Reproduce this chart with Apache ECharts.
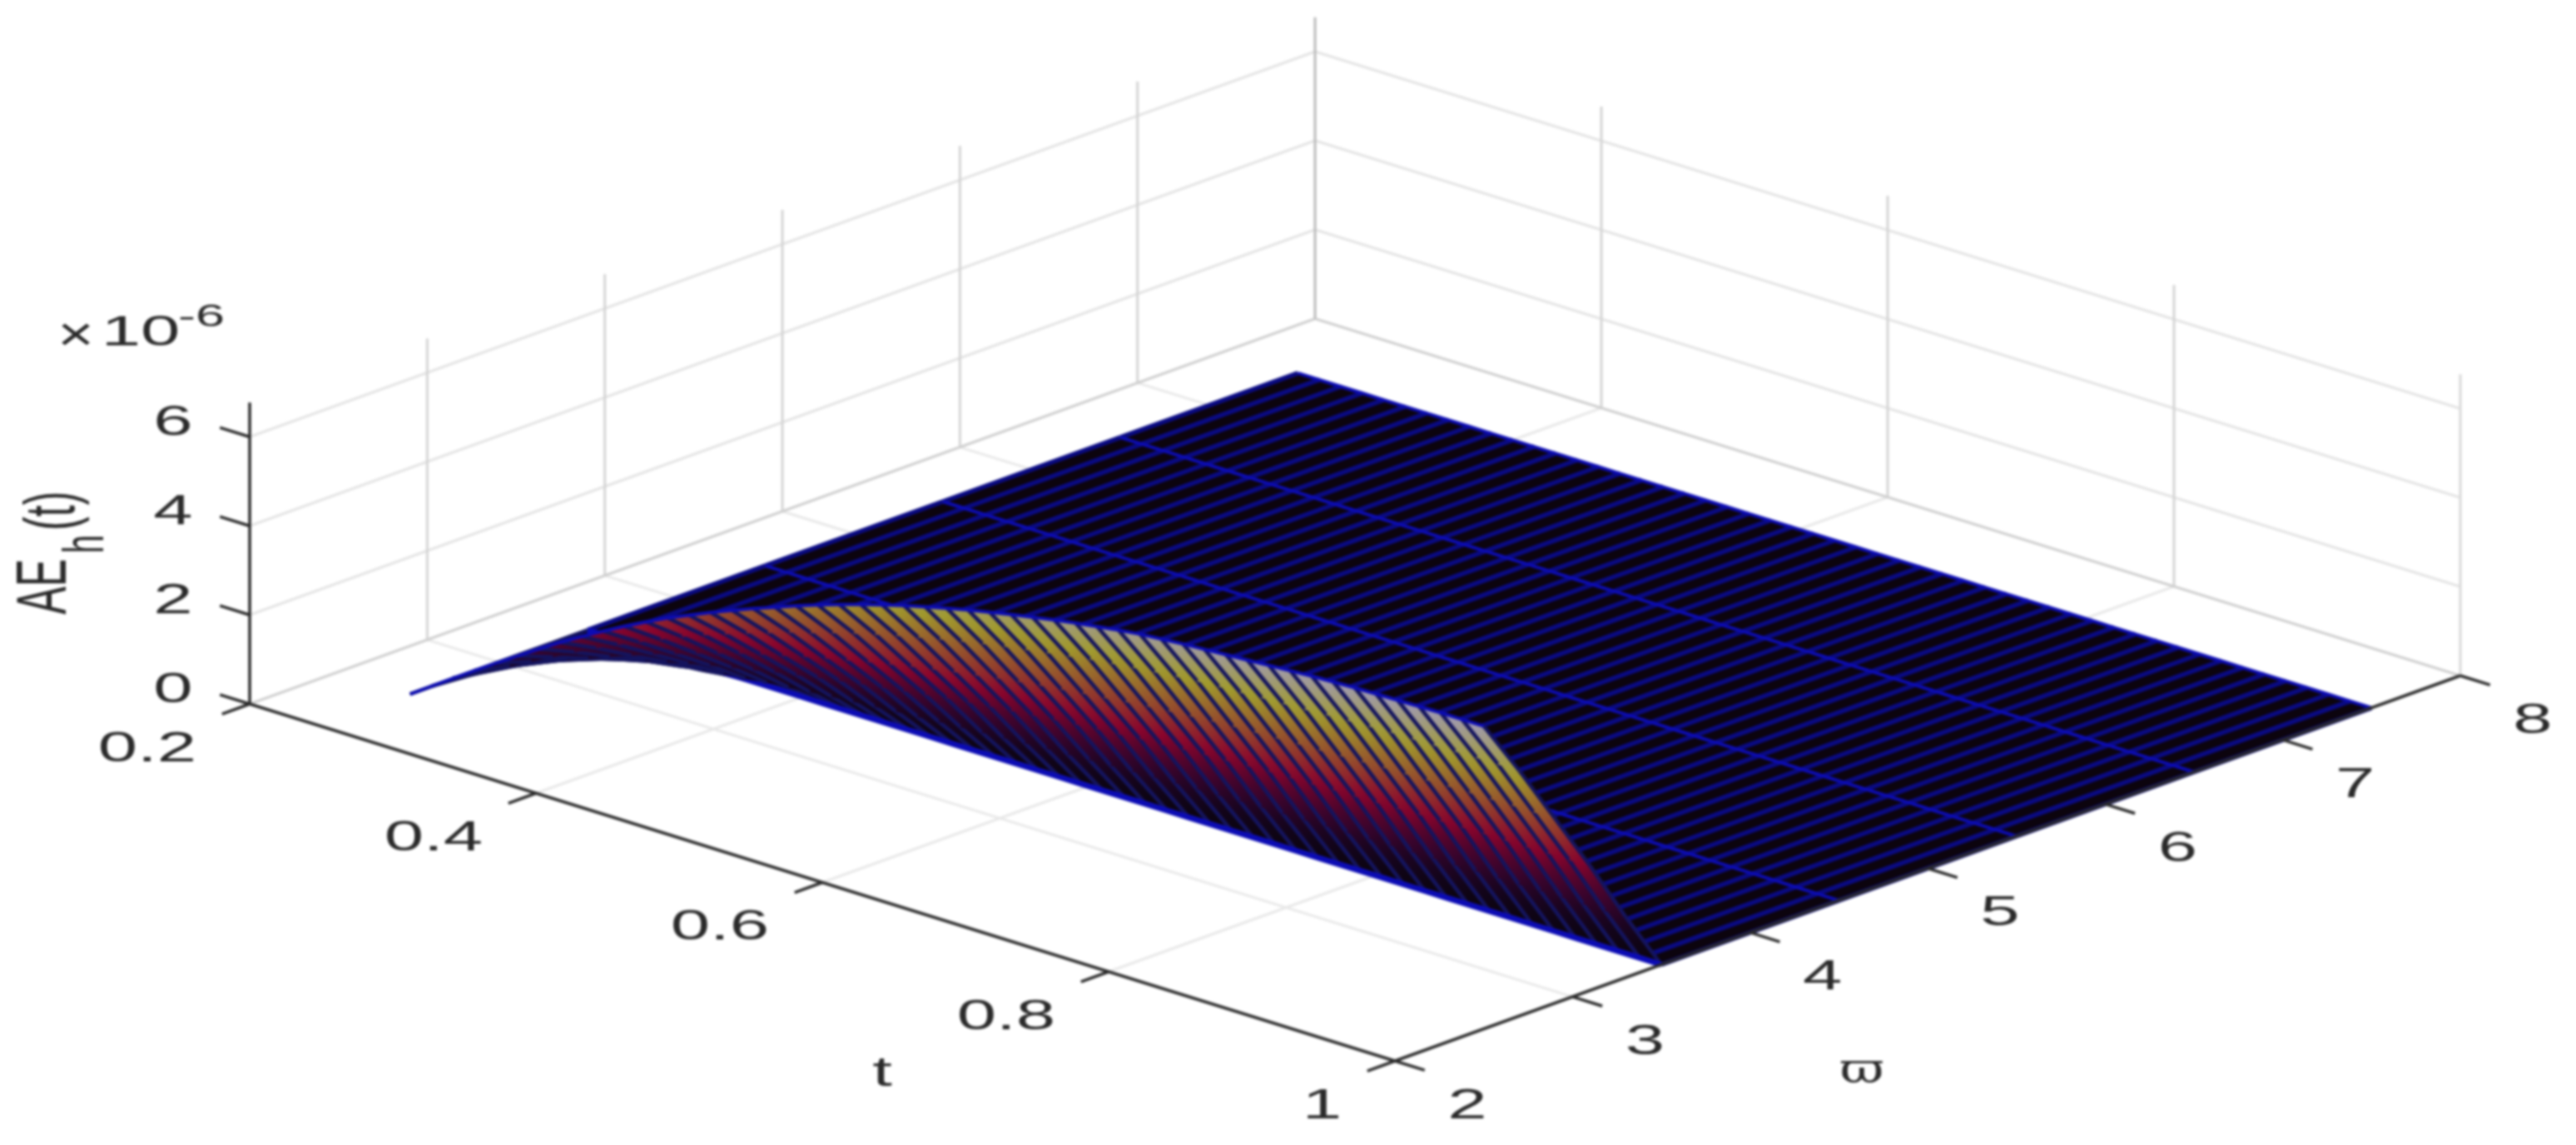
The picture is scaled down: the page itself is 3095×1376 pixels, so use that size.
<!DOCTYPE html>
<html>
<head>
<meta charset="utf-8">
<title>AE_h(t)</title>
<script src="https://cdn.jsdelivr.net/npm/echarts@6/dist/echarts.min.js"></script>
<style>
  html, body { margin: 0; padding: 0; background: #fff; }
  #main { width: 3095px; height: 1376px; filter: blur(1.4px); }
</style>
</head>
<body>
<div id="main"></div>
<script>
// axis ticks
var tTicks = [0.2, 0.4, 0.6, 0.8, 1];
var wTicks = [2, 3, 4, 5, 6, 7, 8];
var zTicks = [0, 2, 4, 6];
var tTickLabels = ["0.2", "0.4", "0.6", "0.8", "1"];
var wTickLabels = ["2", "3", "4", "5", "6", "7", "8"];
var zTickLabels = ["0", "2", "4", "6"];
var zTop = 6.77;

// surface mesh, z in units of 1e-6
var surfW = [2.5, 2.7, 2.9, 3.1, 3.3, 3.5, 4.5, 5.5, 6.5, 7.5];
var strongW = [2.5, 3.5, 4.5, 5.5, 6.5, 7.5];
var surfT = [0.25, 0.265, 0.28, 0.295, 0.31, 0.325, 0.34, 0.355, 0.37, 0.385, 0.4, 0.415, 0.43, 0.445, 0.46, 0.475, 0.49,
  0.505, 0.52, 0.535, 0.55, 0.565, 0.58, 0.595, 0.61, 0.625, 0.64, 0.655, 0.67, 0.685, 0.7, 0.715, 0.73, 0.745, 0.76,
  0.775, 0.79, 0.805, 0.82, 0.835, 0.85, 0.865, 0.88, 0.895, 0.91, 0.925, 0.94, 0.955, 0.97, 0.985, 1];
// one row per surfT, one column per w in 2.5 .. 3.5, beyond that the surface lies flat on 0
var surfZ = [
  [0, 0, 0, 0, 0, 0],
  [0.33, 0.27, 0.2, 0.14, 0.07, 0],
  [0.66, 0.53, 0.4, 0.27, 0.13, 0],
  [0.98, 0.79, 0.6, 0.4, 0.2, 0],
  [1.3, 1.05, 0.79, 0.53, 0.26, 0],
  [1.61, 1.3, 0.98, 0.66, 0.32, 0],
  [1.92, 1.56, 1.17, 0.79, 0.38, 0],
  [2.22, 1.8, 1.35, 0.91, 0.44, 0],
  [2.5, 2.03, 1.53, 1.03, 0.5, 0],
  [2.77, 2.24, 1.69, 1.14, 0.55, 0],
  [3.03, 2.45, 1.85, 1.24, 0.61, 0],
  [3.28, 2.66, 2, 1.34, 0.66, 0],
  [3.52, 2.85, 2.15, 1.44, 0.7, 0],
  [3.73, 3.02, 2.28, 1.53, 0.75, 0],
  [3.94, 3.19, 2.4, 1.62, 0.79, 0],
  [4.14, 3.35, 2.53, 1.7, 0.83, 0],
  [4.33, 3.51, 2.64, 1.78, 0.87, 0],
  [4.51, 3.65, 2.75, 1.85, 0.9, 0],
  [4.69, 3.8, 2.86, 1.92, 0.94, 0],
  [4.86, 3.94, 2.96, 1.99, 0.97, 0],
  [5.02, 4.07, 3.06, 2.06, 1, 0],
  [5.17, 4.19, 3.15, 2.12, 1.03, 0],
  [5.31, 4.3, 3.24, 2.18, 1.06, 0],
  [5.45, 4.41, 3.32, 2.23, 1.09, 0],
  [5.57, 4.51, 3.4, 2.28, 1.11, 0],
  [5.69, 4.61, 3.47, 2.33, 1.14, 0],
  [5.8, 4.7, 3.54, 2.38, 1.16, 0],
  [5.9, 4.78, 3.6, 2.42, 1.18, 0],
  [6, 4.86, 3.66, 2.46, 1.2, 0],
  [6.09, 4.93, 3.71, 2.5, 1.22, 0],
  [6.18, 5.01, 3.77, 2.53, 1.24, 0],
  [6.26, 5.07, 3.82, 2.57, 1.25, 0],
  [6.33, 5.13, 3.86, 2.6, 1.27, 0],
  [6.4, 5.18, 3.9, 2.62, 1.28, 0],
  [6.46, 5.23, 3.94, 2.65, 1.29, 0],
  [6.5, 5.27, 3.97, 2.67, 1.3, 0],
  [6.54, 5.3, 3.99, 2.68, 1.31, 0],
  [6.57, 5.32, 4.01, 2.69, 1.31, 0],
  [6.6, 5.35, 4.03, 2.71, 1.32, 0],
  [6.63, 5.37, 4.04, 2.72, 1.33, 0],
  [6.66, 5.39, 4.06, 2.73, 1.33, 0],
  [6.69, 5.42, 4.08, 2.74, 1.34, 0],
  [6.72, 5.44, 4.1, 2.76, 1.34, 0],
  [6.74, 5.46, 4.11, 2.76, 1.35, 0],
  [6.76, 5.48, 4.12, 2.77, 1.35, 0],
  [6.77, 5.48, 4.13, 2.78, 1.35, 0],
  [6.78, 5.49, 4.14, 2.78, 1.36, 0],
  [6.79, 5.5, 4.14, 2.78, 1.36, 0],
  [6.8, 5.51, 4.15, 2.79, 1.36, 0],
  [6.8, 5.51, 4.15, 2.79, 1.36, 0],
  [6.8, 5.51, 4.15, 2.79, 1.36, 0]
];

var zClimMax = 6.8;
var textColor = "#2a2a2a";
var font = "'Liberation Sans', Arial, sans-serif";
var stretch = 1.7; // the picture is stretched sideways

// the 3d view: oblique projection of (t, w, z) onto the hidden 2d axes
function project(t, w, z) {
  var a = (t - 0.2) / 0.8;
  var b = (w - 2) / 6;
  return [300 + 1376 * a + 1280 * b, 846 + 429 * a - 463 * b - 53.5 * z];
}

function zAt(i, j) {
  return j < surfZ[i].length ? surfZ[i][j] : 0;
}

// hot colormap, muted and pushed to blue by the edges around each cell
function hot(z) {
  var v = Math.max(0, Math.min(1, z / zClimMax));
  var r = Math.min(1, v / 0.42);
  var g = Math.max(0, Math.min(1, (v - 0.42) / 0.36));
  var b = Math.max(0, (v - 0.78) / 0.22);
  var lift = Math.min(1, v * 4);
  return "rgb(" + Math.round(12 + r * r * 126 + g * 22) + "," + Math.round(4 + g * 150) + "," + Math.round(14 + lift * 30 + b * 135) + ")";
}

// back walls and floor
var gridLines = [];
function addGrid(p, q, color) {
  gridLines.push({ p: p, q: q, color: color });
}
zTicks.forEach(function (z) {
  if (z === 0) return;
  addGrid([0.2, 2, z], [0.2, 8, z], "#e4e4e4");
  addGrid([0.2, 8, z], [1, 8, z], "#e4e4e4");
});
tTicks.slice(1, 4).forEach(function (t) {
  addGrid([t, 2, 0], [t, 8, 0], "#e8e8e8");
  addGrid([t, 8, 0], [t, 8, zTop], "#d4d4d4");
});
wTicks.slice(1, 6).forEach(function (w) {
  addGrid([0.2, w, 0], [1, w, 0], "#e8e8e8");
  addGrid([0.2, w, 0], [0.2, w, zTop], "#d4d4d4");
});
addGrid([0.2, 2, 0], [0.2, 8, 0], "#cfcfcf");
addGrid([0.2, 8, 0], [1, 8, 0], "#cfcfcf");
addGrid([0.2, 8, 0], [0.2, 8, zTop], "#bbbbbb");
addGrid([1, 8, 0], [1, 8, zTop], "#d8d8d8");

// far cells first so the hanging front of the surface covers the flat part
var surfItems = [];
for (var j = surfW.length - 2; j >= 0; j--) {
  for (var i = 0; i < surfT.length - 1; i++) {
    surfItems.push({ type: "cell", i: i, j: j });
  }
  if (strongW.indexOf(surfW[j + 1]) >= 0) {
    surfItems.push({ type: "wline", j: j + 1 });
  }
}
surfItems.push({ type: "wline", j: 0 });

// axes and ticks
var axisLines = [
  { p: [0.2, 2, 0], q: [1, 2, 0] },
  { p: [1, 2, 0], q: [1, 8, 0] },
  { p: [0.2, 2, 0], q: [0.2, 2, zTop] }
];
tTicks.forEach(function (t) {
  axisLines.push({ p: [t, 2, 0], q: [t, 2 - 6 * 0.026, 0] });
});
wTicks.forEach(function (w) {
  axisLines.push({ p: [1, w, 0], q: [1 + 0.8 * 0.026, w, 0] });
});
zTicks.forEach(function (z) {
  axisLines.push({ p: [0.2, 2, z], q: [0.2 - 0.8 * 0.026, 2, z] });
});

// tick labels and titles: anchor in data or pixel space, plus a pixel offset
var labels = [];
tTicks.forEach(function (t, n) {
  labels.push({ at: project(t, 2, 0), dx: -64, dy: 55, text: tTickLabels[n], align: "right" });
});
wTicks.forEach(function (w, n) {
  labels.push({ at: project(1, w, 0), dx: 87, dy: 55, text: wTickLabels[n], align: "center" });
});
zTicks.forEach(function (z, n) {
  labels.push({ at: project(0.2, 2, z), dx: -92, dy: -16, text: zTickLabels[n], align: "center" });
});
labels.push({ at: [1060, 1291], text: "t", align: "center" });
labels.push({ at: [2237, 1288], text: "\u03d6", align: "center", family: "'DejaVu Serif'", sx: 1.3 });
labels.push({ at: [56, 705], text: "AE", align: "center", rot: true });
labels.push({ at: [105, 654], text: "h", align: "center", rot: true, size: 40 });
labels.push({ at: [66, 614], text: "(t)", align: "center", rot: true });
labels.push({ at: [91, 405], text: "\u00d7", align: "center", size: 58, sx: 1.3 });
labels.push({ at: [169, 401], text: "10", align: "center" });
labels.push({ at: [242, 382], text: "-6", align: "center", size: 37 });

function lineEl(api, p, q, color, width) {
  var a = api.coord(project(p[0], p[1], p[2]));
  var b = api.coord(project(q[0], q[1], q[2]));
  return {
    type: "line",
    shape: { x1: a[0], y1: a[1], x2: b[0], y2: b[1] },
    style: { stroke: color, lineWidth: width, lineCap: "butt" },
  };
}

function renderGrid(params, api) {
  var d = gridLines[params.dataIndex];
  return lineEl(api, d.p, d.q, d.color, 3);
}

function renderAxis(params, api) {
  var d = axisLines[params.dataIndex];
  return lineEl(api, d.p, d.q, "#2b2b2b", 3.5);
}

function renderSurface(params, api) {
  var d = surfItems[params.dataIndex];
  if (d.type === "wline") {
    var pts = [];
    var w = surfW[d.j];
    for (var n = 0; n < surfT.length; n++) {
      pts.push(api.coord(project(surfT[n], w, zAt(n, d.j))));
    }
    return {
      type: "polyline",
      shape: { points: pts },
      style: { stroke: "#0c0cb4", lineWidth: d.j === 5 ? 7 : 4, fill: null },
    };
  }
  var i = d.i, j = d.j;
  var wa = surfW[j], wb = surfW[j + 1];
  var ta = surfT[i], tb = surfT[i + 1];
  var p1 = api.coord(project(ta, wa, zAt(i, j)));
  var p2 = api.coord(project(ta, wb, zAt(i, j + 1)));
  var p3 = api.coord(project(tb, wb, zAt(i + 1, j + 1)));
  var p4 = api.coord(project(tb, wa, zAt(i + 1, j)));
  var za = (zAt(i, j) + zAt(i + 1, j)) / 2;
  var zb = (zAt(i, j + 1) + zAt(i + 1, j + 1)) / 2;
  var stops = [0, 0.25, 0.5, 0.75, 1].map(function (s) {
    return { offset: s, color: hot(za + (zb - za) * s) };
  });
  var fill = new echarts.graphic.LinearGradient(
    (p1[0] + p4[0]) / 2, (p1[1] + p4[1]) / 2,
    (p2[0] + p3[0]) / 2, (p2[1] + p3[1]) / 2,
    stops, true
  );
  var flat = za === 0 && zb === 0;
  var edgeStyle = flat ? { stroke: "#0a0a82", lineWidth: 5.5 } : { stroke: "#14145e", lineWidth: 4.5 };
  return {
    type: "group",
    children: [
      { type: "polygon", shape: { points: [p1, p2, p3, p4] }, style: { fill: fill, stroke: fill, lineWidth: 1 } },
      { type: "line", shape: { x1: p1[0], y1: p1[1], x2: p2[0], y2: p2[1] }, style: edgeStyle },
      { type: "line", shape: { x1: p4[0], y1: p4[1], x2: p3[0], y2: p3[1] }, style: edgeStyle },
    ],
  };
}

function renderLabel(params, api) {
  var d = labels[params.dataIndex];
  var c = api.coord(d.at);
  var el = {
    type: "text",
    x: c[0] + (d.dx || 0),
    y: c[1] + (d.dy || 0),
    style: {
      text: d.text,
      fill: textColor,
      fontFamily: d.family || font,
      fontSize: d.size || 50,
      align: d.align,
      verticalAlign: "middle",
    },
  };
  if (d.rot) {
    el.rotation = Math.PI / 2;
    el.scaleY = stretch;
  } else {
    el.scaleX = d.sx || stretch;
  }
  return el;
}

function indexData(list) {
  return list.map(function (d, n) {
    return [n, n];
  });
}

var myChart = echarts.init(document.getElementById("main"), null, { renderer: "canvas" });
var option = {
  animation: false,
  backgroundColor: "#ffffff",
  grid: { left: 0, right: 0, top: 0, bottom: 0 },
  xAxis: { type: "value", min: 0, max: 3095, show: false },
  yAxis: { type: "value", min: 0, max: 1376, inverse: true, show: false },
  tooltip: { show: false },
  series: [
    { name: "grid", type: "custom", renderItem: renderGrid, data: indexData(gridLines), silent: true },
    { name: "surface", type: "custom", renderItem: renderSurface, data: indexData(surfItems), silent: true },
    { name: "axes", type: "custom", renderItem: renderAxis, data: indexData(axisLines), silent: true },
    { name: "labels", type: "custom", renderItem: renderLabel, data: indexData(labels), silent: true },
  ],
};
myChart.setOption(option);
</script>
</body>
</html>
